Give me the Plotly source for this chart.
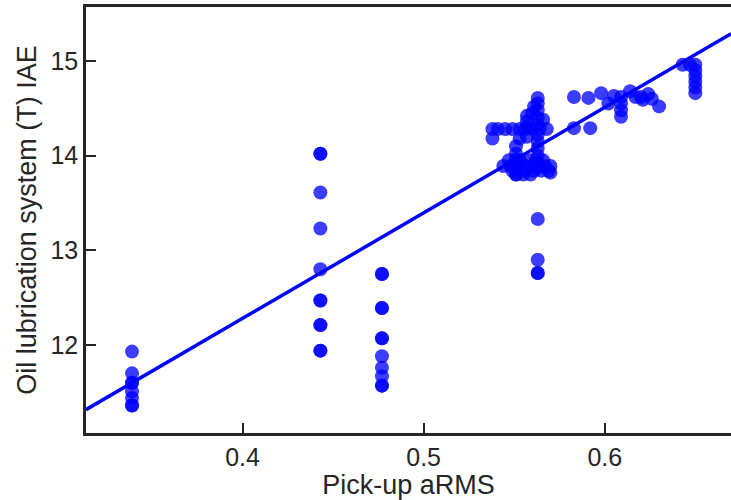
import plotly.graph_objects as go
import numpy as np

# Pick-up aRMS values (x) and Oil lubrication system (T) IAE values (y)
x_a = [0.339] * 8
y_a = [11.93, 11.70, 11.60, 11.60, 11.51, 11.44, 11.36, 11.36]

x_b = [0.443] * 11
y_b = [14.02, 14.02, 13.61, 13.23, 12.80, 12.47, 12.47, 12.21, 12.21, 11.94, 11.94]

x_c = [0.477] * 11
y_c = [12.75, 12.75, 12.39, 12.39, 12.07, 12.07, 11.88, 11.76, 11.67, 11.57, 11.57]

x_d = [0.538, 0.541, 0.545, 0.549, 0.553, 0.556, 0.560, 0.564, 0.568,
       0.538, 0.553,
       0.563, 0.563, 0.563, 0.563, 0.563, 0.563, 0.563, 0.563, 0.563, 0.563, 0.563,
       0.557, 0.557, 0.557, 0.557,
       0.551, 0.551, 0.551, 0.551, 0.551, 0.551,
       0.544, 0.548, 0.552, 0.556, 0.560, 0.564, 0.567, 0.570,
       0.551, 0.555, 0.559, 0.570,
       0.547, 0.553, 0.558, 0.562, 0.566,
       0.549, 0.556, 0.561, 0.565, 0.569,
       0.560, 0.566, 0.561,
       0.563, 0.563, 0.563, 0.563]
y_d = [14.28, 14.28, 14.28, 14.28, 14.28, 14.28, 14.28, 14.28, 14.28,
       14.18, 14.18,
       14.61, 14.55, 14.48, 14.40, 14.33, 14.22, 14.15, 14.08, 14.00, 13.92, 13.88,
       14.42, 14.36, 14.30, 14.20,
       14.10, 14.02, 13.96, 13.90, 13.85, 13.80,
       13.89, 13.89, 13.89, 13.89, 13.89, 13.89, 13.89, 13.89,
       13.80, 13.80, 13.80, 13.82,
       13.95, 13.95, 13.95, 13.95, 13.95,
       13.84, 13.84, 13.84, 13.84, 13.84,
       14.45, 14.38, 14.52,
       13.33, 12.90, 12.76, 12.76]

x_e = [0.583, 0.583, 0.591, 0.592, 0.598, 0.602, 0.605, 0.609, 0.609, 0.609,
       0.609, 0.614, 0.617, 0.620, 0.621, 0.624, 0.626, 0.630]
y_e = [14.62, 14.29, 14.61, 14.29, 14.66, 14.55, 14.63, 14.62, 14.55, 14.48,
       14.41, 14.68, 14.62, 14.62, 14.59, 14.65, 14.60, 14.52]

x_f = [0.643, 0.647, 0.650, 0.650, 0.650, 0.650, 0.650, 0.650]
y_f = [14.96, 14.96, 14.96, 14.90, 14.84, 14.78, 14.72, 14.66]

# Linear fit line (slope, intercept)
fit_slope = 11.15
fit_intercept = 7.82

x_range = [0.3136, 0.6697]
y_range = [11.07, 15.57]
x_ticks = [0.4, 0.5, 0.6]
y_ticks = [12, 13, 14, 15]

xs = x_a + x_b + x_c + x_d + x_e + x_f
ys = y_a + y_b + y_c + y_d + y_e + y_f

line_x = np.array(x_range)
line_y = fit_slope * line_x + fit_intercept

axis_col = "#262626"
font_family = "Liberation Sans, Arial, sans-serif"

fig = go.Figure()
fig.add_trace(go.Scatter(
    x=xs, y=ys, mode="markers",
    marker=dict(size=14, color="#0000ff", opacity=0.76, line=dict(width=0)),
    showlegend=False, hoverinfo="skip"))
fig.add_trace(go.Scatter(
    x=line_x, y=line_y, mode="lines",
    line=dict(color="#0000ff", width=3.5),
    showlegend=False, hoverinfo="skip"))

fig.update_layout(
    width=731, height=500,
    margin=dict(l=86, r=0, t=7, b=67),
    paper_bgcolor="white", plot_bgcolor="white",
    font=dict(family=font_family, size=25, color=axis_col),
    xaxis=dict(
        range=x_range, tickvals=x_ticks, ticktext=[f"{v:.1f}" for v in x_ticks],
        showgrid=False, zeroline=False, showline=True, linecolor=axis_col,
        linewidth=2.5, mirror=True, ticks="inside", ticklen=10, tickwidth=2,
        tickcolor=axis_col, tickfont=dict(size=25, color=axis_col),
        title=dict(text="Pick-up aRMS", font=dict(size=27, color=axis_col), standoff=4)),
    yaxis=dict(
        range=y_range, tickvals=y_ticks, ticktext=[str(v) for v in y_ticks],
        showgrid=False, zeroline=False, showline=True, linecolor=axis_col,
        linewidth=2.5, mirror=False, ticks="inside", ticklen=10, tickwidth=2,
        tickcolor=axis_col, tickfont=dict(size=25, color=axis_col),
        title=dict(text="Oil lubrication system (T) IAE", font=dict(size=27, color=axis_col), standoff=6)),
)

fig.write_html("out.html")
